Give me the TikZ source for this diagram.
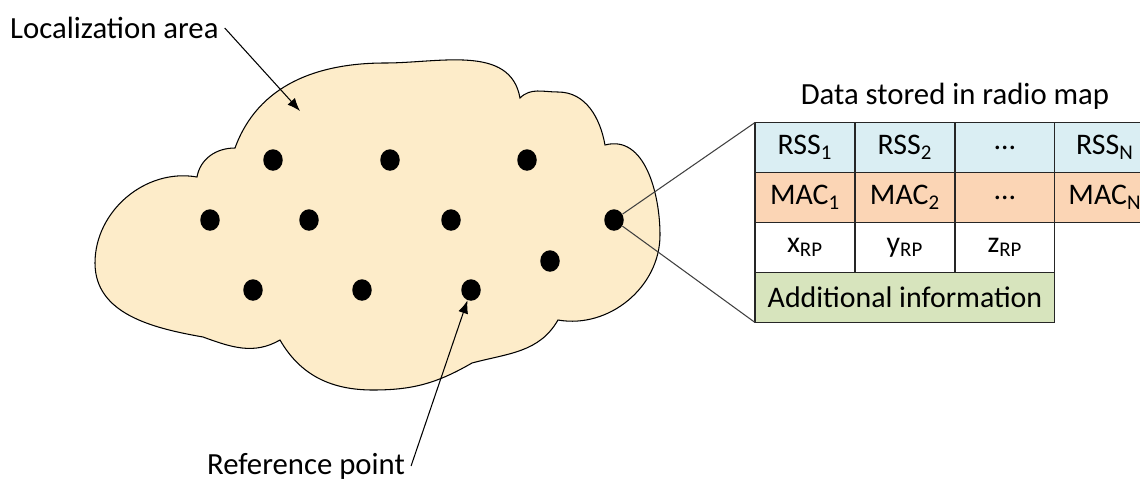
\documentclass[tikz,border=0pt]{standalone}
\usepackage{fontspec}
\setmainfont{Carlito}
\usetikzlibrary{positioning,%
  shapes.geometric,%
  arrows.meta
}
\definecolor{cloudfill}{RGB}{253,236,201}
\definecolor{rssblue}{RGB}{218,238,243}
\definecolor{macorange}{RGB}{251,213,181}
\definecolor{infogreen}{RGB}{215,228,189}

\begin{document}
\begin{tikzpicture}
                    [x=0.02cm, y=0.02cm,
                    area/.style={fill=cloudfill, draw=black,
                        line width=0.6pt},
                    rp/.style={ellipse, fill=black, inner sep=0pt,
                        minimum width=0.39cm, minimum height=0.43cm},
                    lbl/.style={font=\fontsize{17.5}{21}\selectfont},
                    cell/.style={rectangle, draw=black!85,
                        line width=0.6pt, outer sep=0pt, inner sep=0pt,
                        minimum width=2cm, minimum height=1cm,
                        font=\fontsize{17}{20}\selectfont},
                    rss/.style={cell, fill=rssblue},
                    mac/.style={cell, fill=macorange},
                    coordcell/.style={cell, fill=white},
                    info/.style={cell, fill=infogreen,
                        minimum width=6cm},
                    node distance=0pt,
                    >={Latex[length=2.6mm, width=2mm]}]

                    \useasboundingbox (0,0) rectangle (1140,-481);

                    % the localization area
                    \draw[area] (235,-148)
                        to[out=70,in=180] (385,-63)
                        to[out=0,in=100] (520,-98)
                        to[out=45,in=180] (558,-92)
                        to[out=0,in=100] (605,-145)
                        to[out=15,in=90] (660,-235)
                        to[out=-90,in=-10] (558,-320)
                        to[out=-120,in=15] (472,-363)
                        to[out=-150,in=0] (373,-390)
                        to[out=180,in=-60] (280,-340)
                        to[out=-150,in=-20] (203,-337)
                        to[out=170,in=-90] (95,-263)
                        to[out=90,in=170] (197,-177)
                        to[out=80,in=180] (235,-148) -- cycle;

                    % reference points
                    \node[rp] (rp1) at (273,-160) {};
                    \node[rp] (rp2) at (390,-160) {};
                    \node[rp] (rp3) at (527,-160) {};
                    \node[rp] (rp4) at (210,-220) {};
                    \node[rp] (rp5) at (309,-220) {};
                    \node[rp] (rp6) at (451,-220) {};
                    \node[rp] (rp7) at (614,-220) {};
                    \node[rp] (rp8) at (253,-290) {};
                    \node[rp] (rp9) at (362,-290) {};
                    \node[rp] (rp10) at (471,-290) {};
                    \node[rp] (rp11) at (550,-261) {};

                    % radio map entry
                    \node[rss] (r1) at (805,-147.5)
                        {RSS\textsubscript{1}};
                    \node[rss, right=of r1] (r2)
                        {RSS\textsubscript{2}};
                    \node[rss, right=of r2] (r3) {\dots};
                    \node[rss, right=of r3] (r4)
                        {RSS\textsubscript{N}};
                    \node[mac, below=of r1] (m1)
                        {MAC\textsubscript{1}};
                    \node[mac, right=of m1] (m2)
                        {MAC\textsubscript{2}};
                    \node[mac, right=of m2] (m3) {\dots};
                    \node[mac, right=of m3] (m4)
                        {MAC\textsubscript{N}};
                    \node[coordcell, below=of m1] (x)
                        {x\textsubscript{RP}};
                    \node[coordcell, right=of x] (y)
                        {y\textsubscript{RP}};
                    \node[coordcell, right=of y] (z)
                        {z\textsubscript{RP}};
                    \node[info, anchor=north west] (add)
                        at (x.south west) {Additional information};

                    \node[lbl, above=4pt of r2.north east] (title)
                        {Data stored in radio map};

                    \draw[black!75, line width=0.6pt]
                        (rp7) -- (r1.north west)
                        (rp7) -- (add.south west);

                    % labels
                    \node[lbl, anchor=west] (loc) at (4,-28)
                        {Localization area};
                    \coordinate (areaPt) at (300,-111);
                    \node[lbl] (ref) at (306,-466)
                        {Reference point};

                    \draw[->, line width=0.6pt] (loc.east) -- (areaPt);
                    \draw[->, line width=0.6pt] (ref.east) -- (rp10);
                \end{tikzpicture}
\end{document}
